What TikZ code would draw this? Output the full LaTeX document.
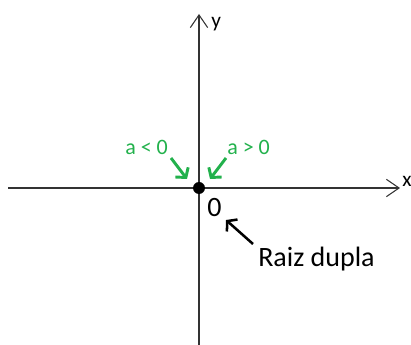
\documentclass[tikz,border=0pt]{standalone}
\usepackage{fontspec}
\setmainfont{Carlito}
\usetikzlibrary{arrows.meta}
\definecolor{pgreen}{HTML}{22B14C}
\begin{document}
\begin{tikzpicture}[x=0.75pt,y=-0.75pt,
  axis/.style={line width=0.8pt,draw=black!80,-{Straight Barb[length=9.5pt,width=13pt,line width=0.8pt]}},
  lbl/.style={inner sep=0pt,anchor=base west},
  garrow/.style={line width=2.2pt,draw=pgreen,-{Straight Barb[length=5pt,width=12pt,line width=2.2pt]}},
  barrow/.style={line width=1.9pt,draw=black,-{Straight Barb[length=5pt,width=12pt,line width=1.9pt]}}]
\useasboundingbox (0,0) rectangle (411,345);
\coordinate (xl) at (8,188);
\coordinate (xr) at (400,188);
\coordinate (yb) at (199,346);
\coordinate (yt) at (199,14);
\draw[axis] (xl) -- (xr);
\draw[axis] (yb) -- (yt);
\node[lbl,font=\fontsize{16}{18}\selectfont,text=black] (xlab) at (402,187) {x};
\node[lbl,font=\fontsize{16}{18}\selectfont,text=black] (ylab) at (211,28) {y};
\node[circle,fill=black,inner sep=0pt,minimum size=9pt] (dot) at (199,188) {};
\node[lbl,font=\fontsize{16.5}{18}\selectfont,text=pgreen] (aneg) at (125,155) {a < 0};
\node[lbl,font=\fontsize{16.5}{18}\selectfont,text=pgreen] (apos) at (227,155) {a > 0};
\coordinate (g1s) at (171,158);
\coordinate (g1e) at (187,179);
\coordinate (g2s) at (226,158);
\coordinate (g2e) at (210,179);
\draw[garrow] (g1s) -- (g1e);
\draw[garrow] (g2s) -- (g2e);
\node[lbl,font=\fontsize{21}{24}\selectfont] (zero) at (207,217) {0};
\node[lbl,font=\fontsize{21}{24}\selectfont] (raiz) at (258,267) {Raiz dupla};
\coordinate (b1s) at (253,244);
\coordinate (b1e) at (226,220);
\draw[barrow] (b1s) -- (b1e);
\end{tikzpicture}
\end{document}
